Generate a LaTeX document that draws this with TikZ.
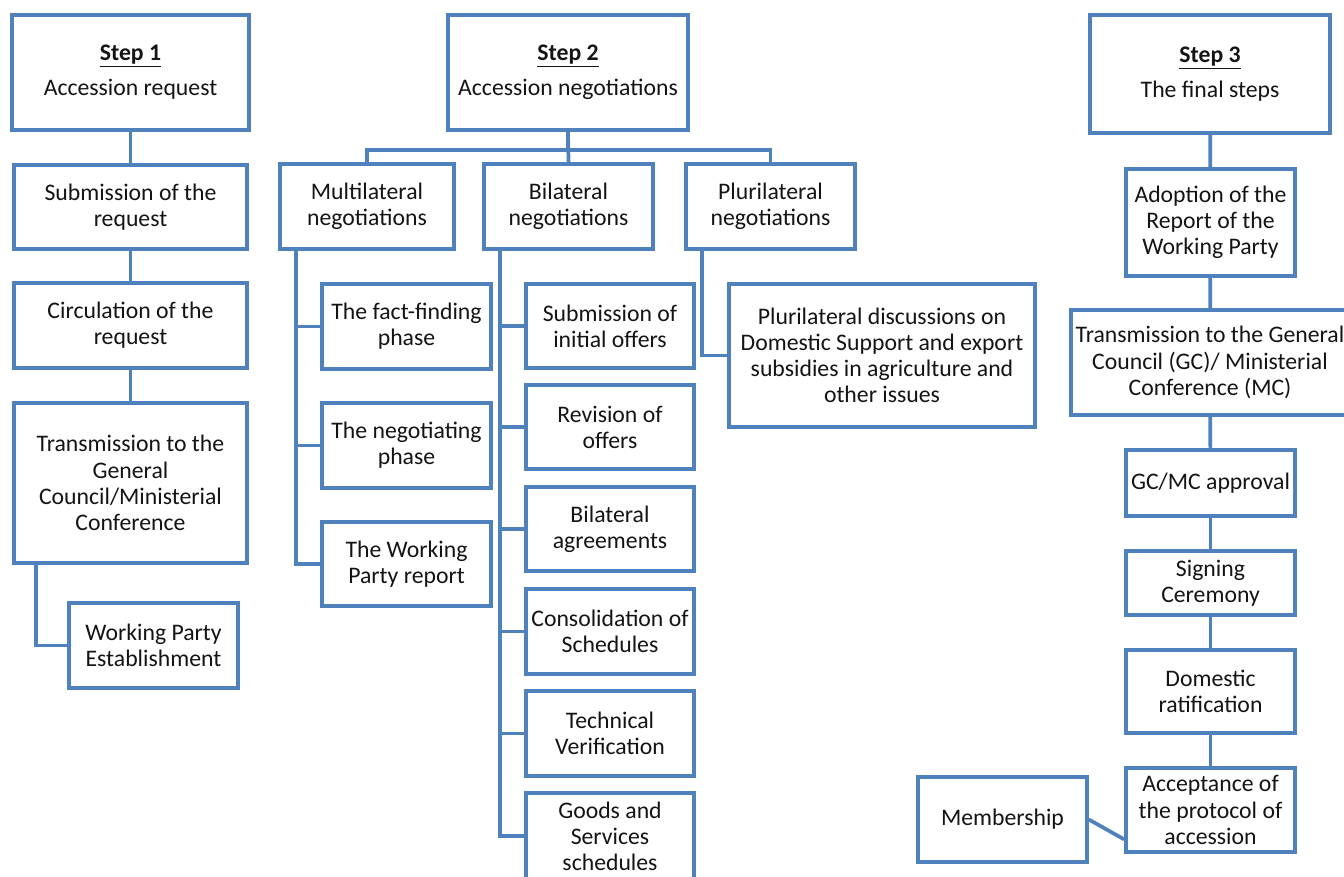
\documentclass[tikz,border=0pt]{standalone}
\usepackage{fontspec}
\setmainfont{Carlito}
\definecolor{bxblue}{HTML}{4F81BD}
\definecolor{txt}{HTML}{141414}
\newcommand\wbox[6]{%
  \node[bx, minimum width={(#4-#2)*0.75pt}, minimum height={(#5-#3)*0.75pt}] (#1) at ({(#2+#4)/2},{(#3+#5)/2}) {#6};}
\begin{document}
\begin{tikzpicture}[x=0.75pt,y=-0.75pt,
  bx/.style={draw=bxblue, line width=2.8pt, rectangle, inner sep=0pt, align=center,
    text=txt, font=\fontsize{17.8}{19.6}\selectfont, fill=white},
  cn/.style={draw=bxblue, line width=2.8pt}]
\useasboundingbox (0,0) rectangle (1344,876);
% Step 1
\wbox{sa}{12}{15}{249}{130}{\underline{\textbf{Step 1}}\\[6.5pt]Accession request}
\wbox{sb}{14}{165}{247}{249}{Submission of the\\request}
\wbox{sc}{14}{283}{247}{368}{Circulation of the\\request}
\wbox{sd}{14}{403}{247}{563}{Transmission to the\\General\\Council/Ministerial\\Conference}
\wbox{se}{69}{603}{238}{688}{Working Party\\Establishment}
\draw[cn] (sa) -- (sb);
\draw[cn] (sb) -- (sc);
\draw[cn] (sc) -- (sd);
\draw[cn] ([xshift=18pt]sd.south west) |- (se.west);
% Step 2
\wbox{ta}{448}{15}{688}{130}{\underline{\textbf{Step 2}}\\[6.5pt]Accession negotiations}
\wbox{mu}{280}{164}{454}{249}{Multilateral\\negotiations}
\wbox{bi}{484}{164}{653}{249}{Bilateral\\negotiations}
\wbox{pl}{686}{164}{855}{249}{Plurilateral\\negotiations}
\draw[cn] (ta.south) -- ++(0,18) -| (mu.north);
\draw[cn] (ta.south) -- ++(0,18) -| (pl.north);
\draw[cn] (ta.south) -- (bi.north);
\wbox{m1}{322}{284}{491}{369}{The fact-finding\\phase}
\wbox{m2}{322}{403}{491}{488}{The negotiating\\phase}
\wbox{m3}{322}{522}{491}{606}{The Working\\Party report}
\draw[cn] ([xshift=13.5pt]mu.south west) |- (m1.west);
\draw[cn] ([xshift=13.5pt]mu.south west) |- (m2.west);
\draw[cn] ([xshift=13.5pt]mu.south west) |- (m3.west);
\wbox{b1}{526}{284}{694}{368}{Submission of\\initial offers}
\wbox{b2}{526}{385}{694}{469}{Revision of\\offers}
\wbox{b3}{526}{487}{694}{571}{Bilateral\\agreements}
\wbox{b4}{526}{589}{694}{674}{Consolidation of\\Schedules}
\wbox{b5}{526}{691}{694}{776}{Technical\\Verification}
\wbox{b6}{526}{793}{694}{879}{Goods and\\Services\\schedules}
\foreach \b in {b1,b2,b3,b4,b5,b6}
  \draw[cn] ([xshift=13.5pt]bi.south west) |- (\b.west);
\wbox{p1}{729}{284}{1035}{427}{Plurilateral discussions on\\Domestic Support and export\\subsidies in agriculture and\\other issues}
\draw[cn] ([xshift=13.5pt]pl.south west) |- (p1.west);
% Step 3
\wbox{ua}{1090}{15}{1330}{133}{\underline{\textbf{Step 3}}\\[6.5pt]The final steps}
\wbox{ub}{1126}{169}{1295}{276}{Adoption of the\\Report of the\\Working Party}
\wbox{uc}{1071}{310}{1349}{415}{Transmission to the General\\Council (GC)/ Ministerial\\Conference (MC)}
\wbox{ud}{1126}{450}{1295}{516}{GC/MC approval}
\wbox{ue}{1126}{551}{1295}{615}{Signing\\Ceremony}
\wbox{uf}{1126}{650}{1295}{733}{Domestic\\ratification}
\wbox{ug}{1126}{768}{1295}{852}{Acceptance of\\the protocol of\\accession}
\wbox{uh}{918}{777}{1087}{862}{Membership}
\draw[cn] (ua) -- (ub);
\draw[cn] (ub) -- (uc);
\draw[cn] (uc) -- (ud);
\draw[cn] (ud) -- (ue);
\draw[cn] (ue) -- (uf);
\draw[cn] (uf) -- (ug);
\draw[cn] (uh.east) -- ([yshift=-22pt]ug.west);
\end{tikzpicture}
\end{document}
